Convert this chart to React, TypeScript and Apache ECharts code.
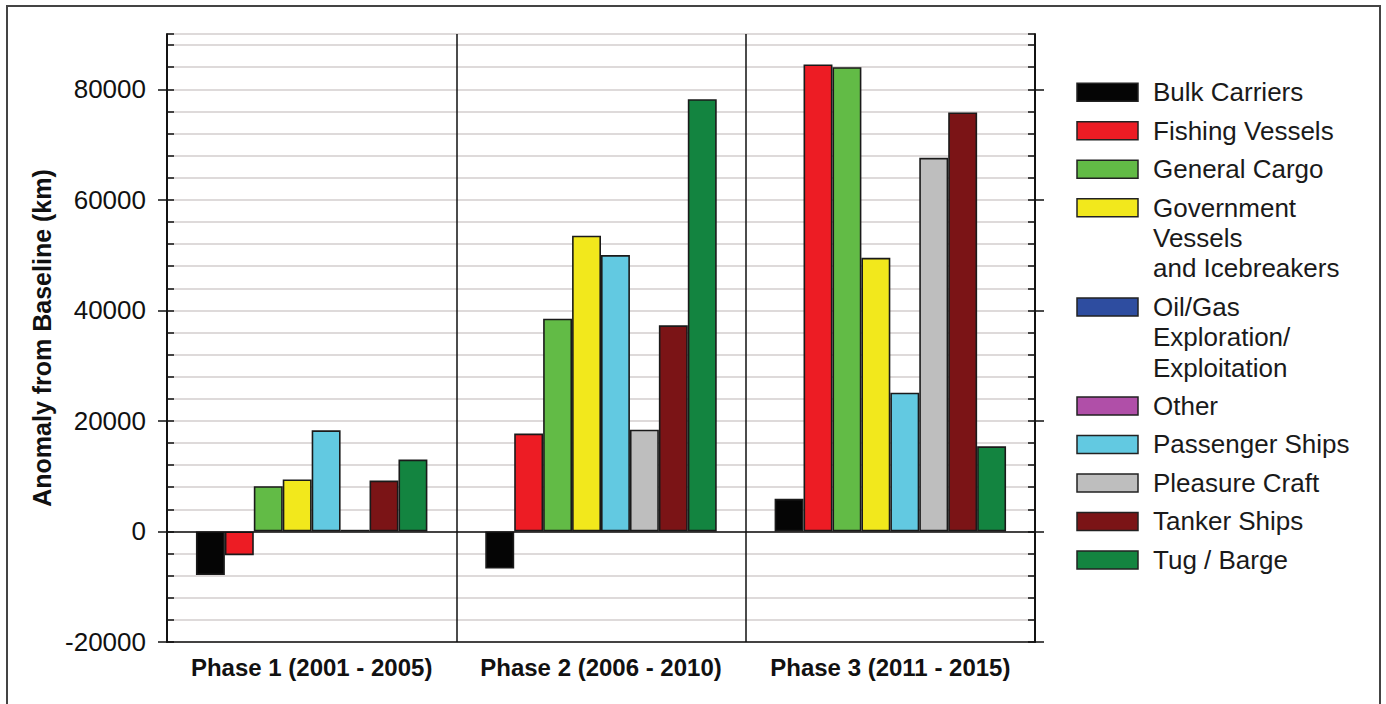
import React, { useEffect, useRef } from 'react';
import * as echarts from 'echarts';

const categories = ['Phase 1 (2001 - 2005)', 'Phase 2 (2006 - 2010)', 'Phase 3 (2011 - 2015)'];

const seriesNames = [
  'Bulk Carriers',
  'Fishing Vessels',
  'General Cargo',
  'Government\nVessels\nand Icebreakers',
  'Oil/Gas\nExploration/\nExploitation',
  'Other',
  'Passenger Ships',
  'Pleasure Craft',
  'Tanker Ships',
  'Tug / Barge',
];

const seriesColors = [
  '#050505',
  '#ED1C24',
  '#62BB46',
  '#F2E81C',
  '#2E4DA0',
  '#B04FA8',
  '#62C9E1',
  '#BEBEBE',
  '#7B1416',
  '#138440',
];

const bulkCarriers = [-7900, -6700, 5900];
const fishingVessels = [-4300, 17700, 84500];
const generalCargo = [8200, 38500, 84000];
const governmentVessels = [9400, 53500, 49500];
const oilGasExploration = [null, null, null];
const otherVessels = [null, null, null];
const passengerShips = [18300, 50000, 25100];
const pleasureCraft = [300, 18400, 67600];
const tankerShips = [9200, 37300, 75800];
const tugBarge = [13000, 78200, 15400];

const seriesValues = [
  bulkCarriers,
  fishingVessels,
  generalCargo,
  governmentVessels,
  oilGasExploration,
  otherVessels,
  passengerShips,
  pleasureCraft,
  tankerShips,
  tugBarge,
];

const majorTicks = [-20000, 0, 20000, 40000, 60000, 80000];

const FONT = 'Liberation Sans, Arial, Helvetica, sans-serif';

export default function App() {
  const ref = useRef<HTMLDivElement>(null);

  useEffect(() => {
    if (!ref.current) return;
    const chart = echarts.init(ref.current, undefined, { renderer: 'svg' });

    const barSeries = seriesNames
      .map((name, i) => ({ name, i }))
      .filter(({ i }) => seriesValues[i].some((v) => v !== null))
      .map(({ name, i }, k) => ({
        name: name.replace(/\n/g, ' '),
        type: 'bar',
        xAxisIndex: 0,
        yAxisIndex: 0,
        data: seriesValues[i].map((v) => (v === null ? '-' : v)),
        barGap: '0%',
        barCategoryGap: '20%',
        itemStyle: { color: seriesColors[i], borderColor: '#1a1a1a', borderWidth: 1.6 },
        markLine:
          k === 0
            ? {
                silent: true,
                symbol: 'none',
                label: { show: false },
                lineStyle: { color: '#111', width: 1.5, type: 'solid' },
                data: [{ yAxis: 0 }],
              }
            : undefined,
      }));

    // Legend drawn with graphic elements
    const legendX = 1077;
    const textX = 1153;
    const step = 38.5;
    const lineH = 30.3;
    let yc = 92.3;
    const legendEls: any[] = [];
    seriesNames.forEach((name, i) => {
      legendEls.push({
        type: 'rect',
        shape: { x: legendX, y: yc - 9, width: 61, height: 18 },
        style: { fill: seriesColors[i], stroke: '#222', lineWidth: 1.5 },
      });
      legendEls.push({
        type: 'text',
        x: textX,
        y: yc - lineH / 2,
        style: {
          text: name,
          fontFamily: FONT,
          fontSize: 26,
          lineHeight: lineH,
          fill: '#1a1a1a',
          verticalAlign: 'top',
          align: 'left',
        },
      });
      const lines = name.split('\n').length;
      yc += step + (lines - 1) * lineH;
    });

    const valueAxisBase = {
      type: 'value',
      min: -20000,
      max: 90000,
    };

    chart.setOption({
      animation: false,
      backgroundColor: '#ffffff',
      grid: {
        left: 167,
        right: 351,
        top: 34,
        bottom: 62,
        show: true,
        borderColor: '#111',
        borderWidth: 1.5,
        backgroundColor: 'transparent',
        containLabel: false,
      },
      xAxis: [
        {
          type: 'category',
          data: categories,
          axisLine: { show: true, onZero: false, lineStyle: { color: '#111', width: 1.5 } },
          axisTick: { show: false },
          axisLabel: {
            fontFamily: FONT,
            fontWeight: 'bold',
            fontSize: 24,
            color: '#111',
            margin: 13,
            interval: 0,
          },
          splitLine: { show: true, interval: 0, lineStyle: { color: '#111', width: 1.5 } },
        },
      ],
      yAxis: [
        {
          ...valueAxisBase,
          position: 'left',
          interval: 4000,
          name: 'Anomaly from Baseline (km)',
          nameLocation: 'middle',
          nameGap: 112,
          nameTextStyle: { fontFamily: FONT, fontWeight: 'bold', fontSize: 25, color: '#111' },
          axisLine: { show: true, onZero: false, lineStyle: { color: '#111', width: 1.5 } },
          axisTick: { show: true, inside: true, length: 7, lineStyle: { color: '#111', width: 1.5 } },
          axisLabel: {
            fontFamily: FONT,
            fontSize: 26,
            color: '#111',
            margin: 21,
            formatter: (v: number) => (majorTicks.includes(v) ? String(v) : ''),
          },
          splitLine: { show: true, lineStyle: { color: '#dedada', width: 2 } },
        },
        {
          ...valueAxisBase,
          position: 'left',
          interval: 20000,
          axisLine: { show: false, onZero: false },
          axisTick: {
            show: true,
            inside: false,
            length: 9,
            customValues: majorTicks,
            lineStyle: { color: '#111', width: 1.5 },
          },
          axisLabel: { show: false },
          splitLine: { show: false },
        },
        {
          ...valueAxisBase,
          position: 'right',
          interval: 4000,
          axisLine: { show: true, onZero: false, lineStyle: { color: '#111', width: 1.5 } },
          axisTick: { show: true, inside: true, length: 7, lineStyle: { color: '#111', width: 1.5 } },
          axisLabel: { show: false },
          splitLine: { show: false },
        },
        {
          ...valueAxisBase,
          position: 'right',
          interval: 20000,
          axisLine: { show: false, onZero: false },
          axisTick: {
            show: true,
            inside: false,
            length: 9,
            customValues: majorTicks,
            lineStyle: { color: '#111', width: 1.5 },
          },
          axisLabel: { show: false },
          splitLine: { show: false },
        },
      ],
      series: barSeries,
      graphic: [
        {
          type: 'rect',
          z: 100,
          shape: { x: 7, y: 6, width: 1373, height: 740 },
          style: { fill: 'none', stroke: '#444', lineWidth: 2 },
        },
        ...legendEls,
      ],
    });

    return () => {
      chart.dispose();
    };
  }, []);

  return (
    <div
      ref={ref}
      style={{ position: 'absolute', left: 0, top: 0, width: 1386, height: 704 }}
    />
  );
}
